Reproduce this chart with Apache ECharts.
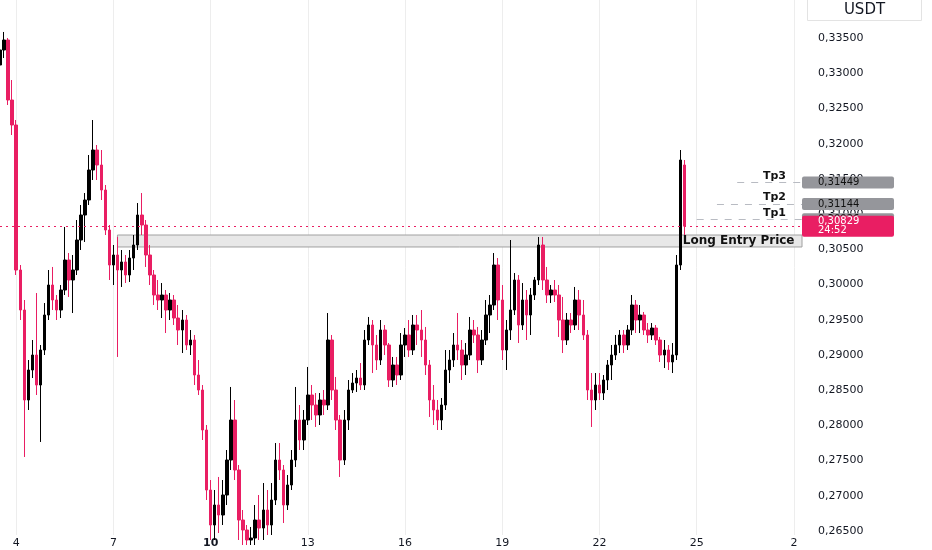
<!DOCTYPE html>
<html><head><meta charset="utf-8">
<script src="https://cdn.jsdelivr.net/npm/echarts@6/dist/echarts.min.js"></script>
<style>html,body{margin:0;padding:0;background:#fff}#c{width:932px;height:550px}</style>
</head><body><div id="c"></div>
<script>
// ---- data ----
const dayLabels = ['4','7','10','13','16','19','22','25','2'];
const priceTicks = [0.265,0.27,0.275,0.28,0.285,0.29,0.295,0.30,0.305,0.31,0.315,0.32,0.325,0.33,0.335];
// [open, close, low, high], 3h candles
const candles = [
[0.33117,0.33330,0.33018,0.33401],[0.33330,0.33472,0.33216,0.33586],[0.33472,0.32620,0.32549,0.33500],[0.32620,0.32265,0.32123,0.32904],
[0.32265,0.30206,0.30135,0.32336],[0.30206,0.29638,0.29496,0.30277],[0.29638,0.28360,0.27551,0.29780],[0.28360,0.28786,0.28218,0.28928],
[0.28786,0.28999,0.28672,0.29212],[0.28999,0.28573,0.28431,0.29879],[0.28573,0.29070,0.27764,0.29141],[0.29070,0.29567,0.28999,0.29737],
[0.29567,0.29993,0.29496,0.30206],[0.29993,0.29780,0.29638,0.30249],[0.29780,0.29638,0.29496,0.29851],[0.29638,0.29922,0.29524,0.29993],
[0.29922,0.30348,0.29851,0.30817],[0.30348,0.30064,0.29823,0.30447],[0.30064,0.30206,0.29595,0.30419],[0.30206,0.30632,0.30135,0.30916],
[0.30632,0.30987,0.30490,0.31129],[0.30987,0.31200,0.30604,0.31299],[0.31200,0.31626,0.31129,0.31839],[0.31626,0.31910,0.31484,0.32336],
[0.31910,0.31697,0.31484,0.31981],[0.31697,0.31342,0.31200,0.31910],[0.31342,0.30774,0.30703,0.31413],[0.30774,0.30277,0.30064,0.30845],
[0.30277,0.30419,0.29993,0.30561],[0.30419,0.30206,0.28971,0.30675],[0.30206,0.30320,0.29965,0.30490],[0.30320,0.30135,0.30021,0.30419],
[0.30135,0.30376,0.30036,0.30490],[0.30376,0.30561,0.30206,0.30703],[0.30561,0.30987,0.30490,0.31157],[0.30987,0.30845,0.30703,0.31299],
[0.30845,0.30419,0.30249,0.30916],[0.30419,0.30135,0.29993,0.30561],[0.30135,0.29851,0.29709,0.30206],[0.29851,0.29780,0.29638,0.30064],
[0.29780,0.29851,0.29524,0.30021],[0.29851,0.29638,0.29311,0.29922],[0.29638,0.29780,0.29496,0.29879],[0.29780,0.29524,0.29425,0.29851],
[0.29524,0.29354,0.29141,0.29709],[0.29354,0.29496,0.29027,0.29638],[0.29496,0.29141,0.29070,0.29567],[0.29141,0.29212,0.28999,0.29354],
[0.29212,0.28715,0.28573,0.29283],[0.28715,0.28502,0.28431,0.28928],[0.28502,0.27934,0.27792,0.28573],[0.27934,0.27082,0.26940,0.28005],
[0.27082,0.26585,0.26372,0.27224],[0.26585,0.26869,0.26372,0.27082],[0.26869,0.26727,0.26471,0.27267],[0.26727,0.27011,0.26585,0.27224],
[0.27011,0.27508,0.26869,0.27650],[0.27508,0.28076,0.27366,0.28545],[0.28076,0.27366,0.27224,0.28360],[0.27366,0.26656,0.26372,0.27437],
[0.26656,0.26514,0.26301,0.26798],[0.26514,0.26372,0.26301,0.26585],[0.26372,0.26400,0.26301,0.26557],[0.26400,0.26656,0.26301,0.26869],
[0.26656,0.26542,0.26372,0.27011],[0.26542,0.26798,0.26372,0.27181],[0.26798,0.26585,0.26443,0.27082],[0.26585,0.26940,0.26443,0.27181],
[0.26940,0.27508,0.26869,0.27749],[0.27508,0.27366,0.27224,0.27749],[0.27366,0.26869,0.26613,0.27437],[0.26869,0.27153,0.26798,0.27295],
[0.27153,0.27508,0.27082,0.27650],[0.27508,0.28076,0.27409,0.28545],[0.28076,0.27792,0.27650,0.28289],[0.27792,0.28076,0.27650,0.28218],
[0.28076,0.28431,0.28005,0.28829],[0.28431,0.28289,0.28076,0.28573],[0.28289,0.28147,0.27977,0.28459],[0.28147,0.28360,0.28005,0.28459],
[0.28360,0.28289,0.28147,0.28502],[0.28289,0.29212,0.28218,0.29595],[0.29212,0.28502,0.28360,0.29283],[0.28502,0.28076,0.27934,0.28687],
[0.28076,0.27508,0.27267,0.28147],[0.27508,0.28076,0.27437,0.28218],[0.28076,0.28502,0.27934,0.28644],[0.28502,0.28601,0.28459,0.28743],
[0.28601,0.28672,0.28474,0.28786],[0.28672,0.28573,0.28502,0.28885],[0.28573,0.29212,0.28502,0.29354],[0.29212,0.29425,0.29141,0.29539],
[0.29425,0.29141,0.28743,0.29496],[0.29141,0.28928,0.28786,0.29283],[0.28928,0.29354,0.28857,0.29496],[0.29354,0.29141,0.28999,0.29425],
[0.29141,0.28644,0.28545,0.29169],[0.28644,0.28857,0.28545,0.28971],[0.28857,0.28715,0.28573,0.28971],[0.28715,0.29141,0.28644,0.29311],
[0.29141,0.29283,0.28971,0.29382],[0.29283,0.29070,0.28971,0.29496],[0.29070,0.29425,0.28999,0.29567],[0.29425,0.29354,0.29141,0.29567],
[0.29354,0.29212,0.28971,0.29638],[0.29212,0.28857,0.28715,0.29397],[0.28857,0.28360,0.28119,0.28928],[0.28360,0.28218,0.28005,0.28573],
[0.28218,0.28076,0.27934,0.28360],[0.28076,0.28289,0.27934,0.28388],[0.28289,0.28786,0.28218,0.29070],[0.28786,0.28928,0.28601,0.29070],
[0.28928,0.29141,0.28829,0.29311],[0.29141,0.29070,0.28928,0.29595],[0.29070,0.28857,0.28644,0.29212],[0.28857,0.28999,0.28715,0.29169],
[0.28999,0.29354,0.28928,0.29539],[0.29354,0.29283,0.29169,0.29496],[0.29283,0.28928,0.28743,0.29397],[0.28928,0.29212,0.28857,0.29354],
[0.29212,0.29567,0.29141,0.29780],[0.29567,0.29709,0.29311,0.29851],[0.29709,0.30277,0.29638,0.30447],[0.30277,0.29780,0.29496,0.30376],
[0.29780,0.29070,0.28928,0.29993],[0.29070,0.29354,0.28786,0.29496],[0.29354,0.29638,0.29212,0.30632],[0.29638,0.30064,0.29567,0.30163],
[0.30064,0.29425,0.29169,0.30135],[0.29425,0.29780,0.29354,0.30021],[0.29780,0.29567,0.29212,0.29922],[0.29567,0.29851,0.29283,0.29950],
[0.29851,0.30064,0.29780,0.30107],[0.30064,0.30561,0.29993,0.30675],[0.30561,0.30064,0.29922,0.30675],[0.30064,0.29851,0.29737,0.30249],
[0.29851,0.29922,0.29737,0.29993],[0.29922,0.29851,0.29752,0.30064],[0.29851,0.29496,0.29255,0.29993],[0.29496,0.29212,0.29027,0.29823],
[0.29212,0.29496,0.29141,0.29595],[0.29496,0.29425,0.29311,0.29595],[0.29425,0.29780,0.29354,0.29965],[0.29780,0.29567,0.29354,0.29922],
[0.29567,0.29283,0.29212,0.29780],[0.29283,0.28502,0.28360,0.29354],[0.28502,0.28360,0.27977,0.28743],[0.28360,0.28573,0.28218,0.28743],
[0.28573,0.28459,0.28360,0.28743],[0.28459,0.28644,0.28360,0.28715],[0.28644,0.28857,0.28502,0.28928],[0.28857,0.28999,0.28644,0.29141],
[0.28999,0.29141,0.28928,0.29283],[0.29141,0.29283,0.29027,0.29354],[0.29283,0.29141,0.29027,0.29354],[0.29141,0.29354,0.29070,0.29425],
[0.29354,0.29709,0.29283,0.29851],[0.29709,0.29496,0.29311,0.29780],[0.29496,0.29567,0.29311,0.29709],[0.29567,0.29354,0.29283,0.29610],
[0.29354,0.29283,0.29169,0.29453],[0.29283,0.29382,0.29212,0.29453],[0.29382,0.29212,0.29141,0.29425],[0.29212,0.28999,0.28900,0.29255],
[0.28999,0.29070,0.28814,0.29212],[0.29070,0.28900,0.28786,0.29141],[0.28900,0.28999,0.28743,0.29169],[0.28999,0.30277,0.28928,0.30419],
[0.30277,0.31768,0.30206,0.31910],[0.31697,0.30829,0.30703,0.31768]
];
const lastPrice = 0.30829;
const countdown = '24:52';
const entryHigh = 0.30703, entryLow = 0.30533, entryStart = 29;
const tpNames = ['Tp1','Tp2','Tp3'];
const tpValues = [0.30926, 0.31144, 0.31449];
const tpStart = [172, 177, 182];

// ---- layout helpers ----
const nCats = 199;            // 3h slots incl. empty future space
const firstLabel = 4, labelStep = 24;
const categories = [];
for (let i = 0; i < nCats; i++) categories.push(String(i));
const lastCat = nCats - 1;
const PINK = '#e91e63', GREY_BOX = '#95969b';
const fmt = v => v.toFixed(5).replace('.', ',');
const FONT = 'DejaVu Sans';
const CLEAR = 'rgba(0,0,0,0)';

const markLines = [];
tpValues.forEach((v, i) => {
  markLines.push([
    {coord: [tpStart[i], v], lineStyle: {type: [7, 7], color: '#b8bbc2', width: 1},
      label: {show: true, position: 'insideEndTop', distance: [16, 1], formatter: tpNames[i],
        color: '#111', fontWeight: 'bold', fontSize: 11, fontFamily: FONT}},
    {coord: [lastCat, v]}
  ]);
});
tpValues.forEach(v => {
  markLines.push({
    yAxis: v, lineStyle: {color: CLEAR, width: 0},
    label: {show: true, position: 'end', distance: 0, formatter: fmt(v),
      backgroundColor: GREY_BOX, color: '#111', fontSize: 10, lineHeight: 11, fontFamily: FONT,
      padding: [1, 16, 0, 16], width: 60, borderRadius: 2}
  });
});
markLines.push({
  yAxis: lastPrice,
  lineStyle: {type: [2, 4], color: PINK, width: 1},
  label: {show: true, position: 'end', distance: 0, formatter: fmt(lastPrice) + '\n' + countdown,
    backgroundColor: PINK, color: '#fff', fontSize: 10, lineHeight: 9, fontFamily: FONT,
    padding: [2, 16, 1, 16], width: 60, borderRadius: 2}
});

const chart = echarts.init(document.getElementById('c'), null, {renderer: 'canvas'});
chart.setOption({
  animation: false,
  backgroundColor: '#fff',
  grid: {left: -1, right: 130, top: 0, bottom: 15},
  xAxis: {
    type: 'category', data: categories, boundaryGap: false,
    axisLine: {show: false}, axisTick: {show: false},
    axisLabel: {
      interval: idx => idx >= firstLabel && (idx - firstLabel) % labelStep === 0,
      formatter: (val, idx) => {
        const t = dayLabels[(idx - firstLabel) / labelStep];
        return t === '10' ? '{b|10}' : t;
      },
      rich: {b: {fontWeight: 'bold', fontSize: 11, color: '#131722', fontFamily: FONT}},
      color: '#131722', fontSize: 11, fontFamily: FONT, margin: 3
    },
    splitLine: {show: true, interval: idx => idx >= firstLabel && (idx - firstLabel) % labelStep === 0,
      lineStyle: {color: '#ededed', width: 1}}
  },
  yAxis: {
    type: 'value', position: 'right', scale: true,
    min: 0.26443, max: 0.3404,
    axisLine: {show: false}, axisTick: {show: false}, splitLine: {show: false},
    axisLabel: {customValues: priceTicks, formatter: fmt, color: '#131722', fontSize: 11,
      fontFamily: FONT, margin: 16}
  },
  series: [{
    type: 'candlestick', data: candles, barWidth: 3, clip: true,
    itemStyle: {color: '#000', color0: PINK, borderColor: '#000', borderColor0: PINK, borderWidth: 1},
    markArea: {
      silent: true,
      itemStyle: {color: '#e8e8e8', borderColor: '#a0a0a0', borderWidth: 1},
      label: {show: true, position: 'insideRight', distance: 8, color: '#111', fontWeight: 'bold',
        fontSize: 12, fontFamily: FONT},
      data: [[{xAxis: entryStart, yAxis: entryHigh, name: 'Long Entry Price'}, {xAxis: lastCat, yAxis: entryLow}]]
    },
    markLine: {silent: true, precision: 5, symbol: ['none', 'none'], data: markLines}
  }],
  graphic: [{
    type: 'group', right: 10, top: -1, children: [
      {type: 'rect', shape: {x: 0, y: 0, width: 114, height: 21}, style: {fill: '#fff', stroke: '#e3e3e3'}},
      {type: 'text', x: 57, y: 11, style: {text: 'USDT', fill: '#131722', font: '15px "DejaVu Sans"',
        textAlign: 'center', textVerticalAlign: 'middle'}}
    ]
  }]
});
</script></body></html>
